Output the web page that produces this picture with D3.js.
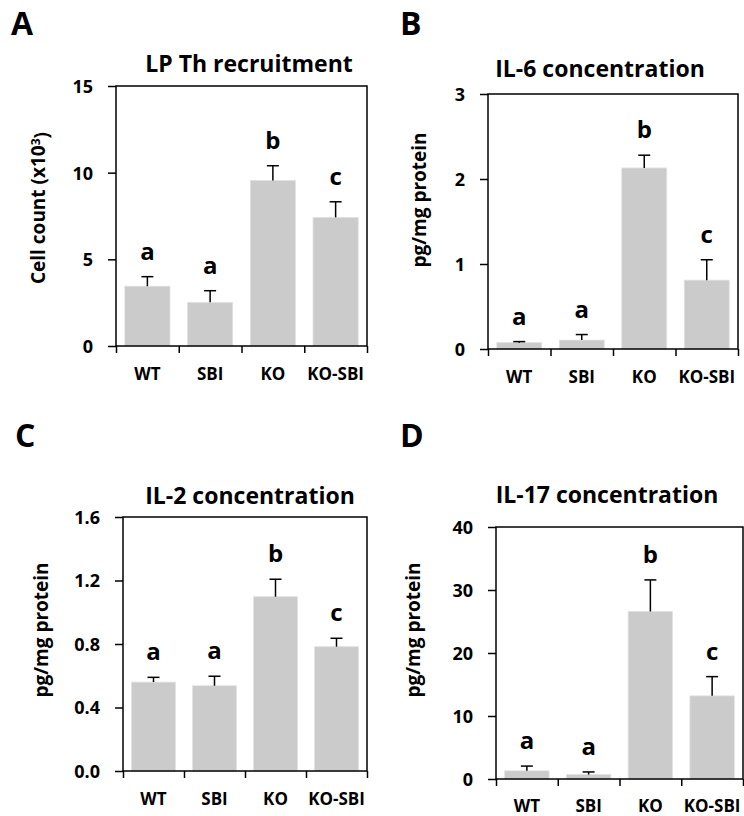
<!DOCTYPE html>
<html lang="en">
<head>
    <meta charset="utf-8">
    <title>Th recruitment and cytokines</title>
    <script type="text/javascript" src="https://d3js.org/d3.v7.min.js"></script>
    <style type="text/css">
        body { margin: 0; background: #fff; }
        text { font-family: "Open Sans", Lato, sans-serif; font-weight: bold; fill: #000; }
    </style>
</head>
<body>
    <script type="text/javascript">

        // data
        const groups = ["WT", "SBI", "KO", "KO-SBI"];

        const thValues = [3.45, 2.52, 9.55, 7.42];
        const thErrors = [0.55, 0.67, 0.85, 0.9];
        const thLetters = ["a", "a", "b", "c"];
        const thTicks = [0, 5, 10, 15];

        const il6Values = [0.075, 0.105, 2.13, 0.81];
        const il6Errors = [0.012, 0.065, 0.15, 0.24];
        const il6Letters = ["a", "a", "b", "c"];
        const il6Ticks = [0, 1, 2, 3];

        const il2Values = [0.56, 0.537, 1.098, 0.783];
        const il2Errors = [0.03, 0.06, 0.11, 0.053];
        const il2Letters = ["a", "a", "b", "c"];
        const il2Ticks = [0, 0.4, 0.8, 1.2, 1.6];

        const il17Values = [1.3, 0.7, 26.6, 13.2];
        const il17Errors = [0.75, 0.42, 5.0, 3.05];
        const il17Letters = ["a", "a", "b", "c"];
        const il17Ticks = [0, 10, 20, 30, 40];

        const width = 744;
        const height = 816;

        const svg = d3.select("body")
                    .append("svg")
                    .attr("width", width)
                    .attr("height", height);

        function drawPanel(p) {
            const g = svg.append("g");

            const xScale = d3.scaleBand()
                            .domain(groups)
                            .range([p.left, p.right])
                            .paddingInner(0.28)
                            .paddingOuter(0.14);

            const yScale = d3.scaleLinear()
                            .domain([0, d3.max(p.ticks)])
                            .range([p.bottom, p.top]);

            const rows = groups.map((name, i) => ({
                name: name, value: p.values[i], err: p.errors[i], letter: p.letters[i]
            }));

            // bars
            g.selectAll("rect.bar")
                .data(rows)
                .enter()
                .append("rect")
                .attr("class", "bar")
                .attr("x", d => xScale(d.name))
                .attr("y", d => yScale(d.value))
                .attr("width", xScale.bandwidth())
                .attr("height", d => p.bottom - yScale(d.value))
                .attr("fill", "#cbcbcb")
                .attr("stroke", "#e2e2e2")
                .attr("stroke-width", 0.8);

            // error bars (upper only)
            const cx = d => xScale(d.name) + xScale.bandwidth() / 2;
            g.selectAll("line.err")
                .data(rows)
                .enter()
                .append("line")
                .attr("x1", cx).attr("x2", cx)
                .attr("y1", d => yScale(d.value))
                .attr("y2", d => yScale(d.value + d.err))
                .attr("stroke", "#000")
                .attr("stroke-width", 1.5);

            g.selectAll("line.cap")
                .data(rows)
                .enter()
                .append("line")
                .attr("x1", d => cx(d) - 6).attr("x2", d => cx(d) + 6)
                .attr("y1", d => yScale(d.value + d.err))
                .attr("y2", d => yScale(d.value + d.err))
                .attr("stroke", "#000")
                .attr("stroke-width", 1.5);

            // significance letters
            g.selectAll("text.sig")
                .data(rows)
                .enter()
                .append("text")
                .attr("x", cx)
                .attr("y", d => yScale(d.value + d.err) - 17)
                .attr("text-anchor", "middle")
                .style("font-size", "24px")
                .text(d => d.letter);

            // frame
            g.append("rect")
                .attr("x", p.left)
                .attr("y", p.top)
                .attr("width", p.right - p.left)
                .attr("height", p.bottom - p.top)
                .attr("fill", "none")
                .attr("stroke", "#000")
                .attr("stroke-width", 1.5);

            // y axis
            const yAxis = d3.axisLeft(yScale)
                            .tickValues(p.ticks)
                            .tickFormat(d3.format(p.fmt))
                            .tickSize(8)
                            .tickSizeOuter(0)
                            .tickPadding(15);
            const ya = g.append("g")
                .attr("transform", `translate(${p.left},0)`)
                .call(yAxis);
            ya.select(".domain").remove();
            ya.selectAll("line").attr("stroke-width", 1.5);
            ya.selectAll("text").attr("font-size", null).style("font-size", "18px").attr("dy", "0.36em");

            // x axis: ticks between groups
            const edgeScale = d3.scaleLinear().domain([0, groups.length]).range([p.left, p.right]);
            const xEdges = d3.axisBottom(edgeScale)
                            .tickValues(d3.range(groups.length + 1))
                            .tickFormat("")
                            .tickSize(7)
                            .tickSizeOuter(0);
            const xe = g.append("g")
                .attr("transform", `translate(0,${p.bottom})`)
                .call(xEdges);
            xe.select(".domain").remove();
            xe.selectAll("line").attr("stroke-width", 1.5);

            const xAxis = d3.axisBottom(xScale).tickSize(0).tickPadding(0);
            const xa = g.append("g")
                .attr("transform", `translate(0,${p.labelY})`)
                .call(xAxis);
            xa.select(".domain").remove();
            xa.selectAll("text").attr("font-size", null).attr("dy", null).attr("y", 0).style("font-size", "17px");

            // title
            g.append("text")
                .attr("x", p.titleX)
                .attr("y", p.titleY)
                .attr("text-anchor", "middle")
                .style("font-size", "23px")
                .text(p.title);

            // y label
            const yl = g.append("text")
                .attr("transform", `translate(${p.ylabX},${p.ylabY}) rotate(-90)`)
                .attr("text-anchor", "middle")
                .style("font-size", "19px");
            yl.append("tspan").text(p.ylab);
            if (p.ylabSup) {
                yl.append("tspan").attr("dy", "-0.45em").style("font-size", "12px").text(p.ylabSup);
                yl.append("tspan").attr("dy", "0.45em").text(")");
            }

            // panel letter
            g.append("text")
                .attr("x", p.letterX)
                .attr("y", p.letterY)
                .style("font-size", "32px")
                .text(p.letter);
        }

        drawPanel({
            letter: "A", letterX: 11, letterY: 35,
            title: "LP Th recruitment", titleX: 249, titleY: 72,
            ylab: "Cell count (x10", ylabSup: "3", ylabX: 45, ylabY: 208,
            values: thValues, errors: thErrors, letters: thLetters, ticks: thTicks, fmt: "d",
            left: 116, right: 367, top: 86, bottom: 346, labelY: 380
        });

        drawPanel({
            letter: "B", letterX: 400, letterY: 35,
            title: "IL-6 concentration", titleX: 600, titleY: 77,
            ylab: "pg/mg protein", ylabX: 426, ylabY: 200,
            values: il6Values, errors: il6Errors, letters: il6Letters, ticks: il6Ticks, fmt: "d",
            left: 488, right: 738, top: 94, bottom: 349, labelY: 383
        });

        drawPanel({
            letter: "C", letterX: 15, letterY: 447,
            title: "IL-2 concentration", titleX: 250, titleY: 504,
            ylab: "pg/mg protein", ylabX: 48, ylabY: 630,
            values: il2Values, errors: il2Errors, letters: il2Letters, ticks: il2Ticks, fmt: ".1f",
            left: 123, right: 367, top: 517, bottom: 771, labelY: 805
        });

        drawPanel({
            letter: "D", letterX: 400, letterY: 447,
            title: "IL-17 concentration", titleX: 607, titleY: 503,
            ylab: "pg/mg protein", ylabX: 420, ylabY: 630,
            values: il17Values, errors: il17Errors, letters: il17Letters, ticks: il17Ticks, fmt: "d",
            left: 496, right: 743, top: 527, bottom: 779, labelY: 812
        });

    </script>
</body>
</html>
